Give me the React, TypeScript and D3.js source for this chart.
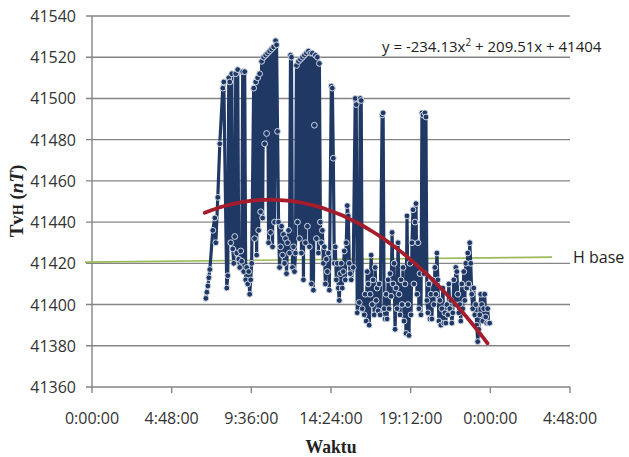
import { useRef, useEffect } from "react";
import * as d3 from "d3";

// axis ticks (x in days, Excel time serial)
const yTicks = [41360, 41380, 41400, 41420, 41440, 41460, 41480, 41500, 41520, 41540];
const xTicks = [0, 0.2, 0.4, 0.6, 0.8, 1.0, 1.2];
const xTickLabels = ["0:00:00", "4:48:00", "9:36:00", "14:24:00", "19:12:00", "0:00:00", "4:48:00"];

// readings: time of day in hours, TvH in nT
const hours = [
  6.86, 6.92, 6.98, 7.04, 7.1, 7.28, 7.4, 7.46, 7.58, 7.7, 7.88, 7.94, 8.12, 8.18, 8.24, 8.3, 8.36, 8.42,
  8.48, 8.54, 8.6, 8.66, 8.72, 8.78, 8.84, 8.9, 8.96, 9.02, 9.08, 9.14, 9.2, 9.26, 9.32, 9.38, 9.44, 9.5,
  9.56, 9.62, 9.74, 9.8, 9.86, 9.92, 9.98, 10.04, 10.1, 10.16, 10.22, 10.28, 10.34, 10.4, 10.46, 10.52,
  10.58, 10.64, 10.7, 10.76, 10.82, 10.88, 10.94, 11.0, 11.06, 11.12, 11.18, 11.24, 11.3, 11.36, 11.42,
  11.48, 11.54, 11.6, 11.66, 11.72, 11.78, 11.84, 11.9, 11.96, 12.02, 12.08, 12.14, 12.2, 12.26, 12.32,
  12.38, 12.44, 12.5, 12.56, 12.62, 12.68, 12.74, 12.8, 12.86, 12.92, 12.98, 13.04, 13.1, 13.16, 13.22,
  13.28, 13.34, 13.4, 13.46, 13.52, 13.58, 13.64, 13.7, 13.76, 13.82, 13.88, 13.94, 14.0, 14.06, 14.12,
  14.18, 14.24, 14.3, 14.42, 14.48, 14.54, 14.6, 14.66, 14.72, 14.78, 14.84, 14.9, 14.96, 15.02, 15.08,
  15.14, 15.2, 15.26, 15.32, 15.38, 15.44, 15.5, 15.56, 15.62, 15.74, 15.86, 15.92, 15.98, 16.1, 16.16,
  16.22, 16.28, 16.4, 16.46, 16.52, 16.58, 16.64, 16.7, 16.76, 16.82, 16.88, 16.94, 17.0, 17.06, 17.12,
  17.18, 17.24, 17.3, 17.36, 17.48, 17.54, 17.6, 17.66, 17.72, 17.78, 17.84, 17.9, 17.96, 18.02, 18.08,
  18.14, 18.2, 18.26, 18.32, 18.38, 18.44, 18.5, 18.56, 18.62, 18.68, 18.74, 18.8, 18.86, 18.92, 18.98,
  19.04, 19.1, 19.16, 19.22, 19.28, 19.34, 19.4, 19.46, 19.52, 19.58, 19.64, 19.7, 19.76, 19.82, 19.88,
  19.94, 20.0, 20.06, 20.12, 20.18, 20.24, 20.3, 20.36, 20.42, 20.48, 20.54, 20.6, 20.66, 20.72, 20.78,
  20.84, 20.9, 20.96, 21.02, 21.08, 21.14, 21.2, 21.26, 21.32, 21.38, 21.44, 21.5, 21.56, 21.62, 21.68,
  21.74, 21.8, 21.86, 21.92, 21.98, 22.04, 22.1, 22.16, 22.22, 22.28, 22.34, 22.4, 22.46, 22.52, 22.58,
  22.64, 22.7, 22.76, 22.82, 22.88, 22.94, 23.0, 23.06, 23.12, 23.18, 23.24, 23.3, 23.36, 23.42, 23.48,
  23.54, 23.6, 23.66, 23.72, 23.78, 23.84, 23.9, 23.96,
];
const tvh = [
  41403, 41406, 41409, 41413, 41417, 41436, 41442, 41430, 41452, 41478, 41505, 41508, 41408, 41414, 41510, 41508, 41430, 41512,
  41427, 41420, 41433, 41512, 41425, 41514, 41422, 41418, 41426, 41421, 41513, 41416, 41513, 41412, 41418, 41410, 41416, 41405,
  41412, 41420, 41505, 41432, 41508, 41424, 41510, 41436, 41512, 41445, 41518, 41442, 41520, 41478, 41521, 41483,
  41522, 41430, 41523, 41435, 41524, 41428, 41525, 41440, 41528, 41526, 41484, 41440, 41418, 41428, 41438,
  41424, 41434, 41420, 41432, 41415, 41430, 41436, 41425, 41521, 41520, 41418, 41428, 41416, 41425, 41516,
  41440, 41518, 41432, 41519, 41425, 41520, 41412, 41521, 41430, 41522, 41438, 41523, 41428, 41522, 41410,
  41522, 41407, 41487, 41521, 41432, 41520, 41425, 41517, 41440, 41430, 41436, 41420, 41428, 41410, 41422,
  41416, 41425, 41407, 41506, 41505, 41471, 41420, 41428, 41412, 41420, 41408, 41402, 41415, 41420, 41408,
  41416, 41426, 41412, 41430, 41448, 41443, 41420, 41415, 41412, 41418, 41500, 41497, 41396, 41401, 41500,
  41499, 41398, 41395, 41405, 41392, 41416, 41410, 41390, 41405, 41424, 41400, 41412, 41395, 41418, 41402,
  41408, 41397, 41410, 41395, 41492, 41493, 41398, 41393, 41405, 41393, 41412, 41398, 41415, 41404, 41435,
  41410, 41420, 41388, 41408, 41398, 41430, 41405, 41395, 41412, 41400, 41418, 41392, 41410, 41386, 41443,
  41400, 41385, 41420, 41395, 41430, 41446, 41410, 41440, 41449, 41405, 41430, 41398, 41415, 41395, 41493,
  41492, 41415, 41493, 41491, 41402, 41396, 41410, 41393, 41405, 41393, 41412, 41400, 41418, 41405, 41425,
  41412, 41392, 41402, 41390, 41398, 41408, 41391, 41396, 41391, 41400, 41395, 41410, 41398, 41402, 41391,
  41396, 41412, 41400, 41418, 41416, 41405, 41396, 41400, 41392, 41410, 41398, 41416, 41402, 41420, 41408,
  41425, 41410, 41430, 41420, 41405, 41398, 41408, 41395, 41400, 41390, 41382, 41388, 41395, 41405, 41400,
  41392, 41398, 41405, 41394, 41391, 41398, 41391, 41391,
];

// polynomial trendline y = a x^2 + b x + c (x in days), as printed on the chart
const trendCoef = [-234.13, 209.51, 41404];
const trendRange = [0.283, 1.0];

// hand drawn H base line
const hBaseX = [-0.018, 1.155];
const hBaseY = [41420.6, 41423];

const W = 629;
const H = 457;

const TvhChart = () => {
  const svgRef = useRef<SVGSVGElement | null>(null);

  useEffect(() => {
    if (!svgRef.current) return;
    document.body.style.margin = "0";

    const svg = d3.select(svgRef.current);
    svg.selectAll("*").remove();

    const x = d3.scaleLinear().domain([0, 1.2]).range([92, 570]);
    const y = d3.scaleLinear().domain([41360, 41540]).range([387, 16]);
    const font = "'Open Sans', sans-serif";

    svg.append("rect").attr("width", W).attr("height", H).attr("fill", "#fff");

    // gridlines + y ticks
    svg.append("g")
      .selectAll("line")
      .data(yTicks)
      .join("line")
      .attr("x1", 86)
      .attr("x2", 570)
      .attr("y1", (d) => y(d))
      .attr("y2", (d) => y(d))
      .attr("stroke", "#858585")
      .attr("stroke-width", 1.4);

    svg.append("g")
      .selectAll("text")
      .data(yTicks)
      .join("text")
      .attr("x", 76)
      .attr("y", (d) => y(d) + 6)
      .attr("text-anchor", "end")
      .attr("font-family", font)
      .attr("font-size", 16)
      .attr("fill", "#333")
      .text((d) => d);

    // axes
    svg.append("line")
      .attr("x1", 92).attr("x2", 92)
      .attr("y1", y(41540)).attr("y2", y(41360))
      .attr("stroke", "#858585").attr("stroke-width", 1.4);

    svg.append("g")
      .selectAll("line")
      .data(xTicks)
      .join("line")
      .attr("x1", (d) => x(d))
      .attr("x2", (d) => x(d))
      .attr("y1", y(41360))
      .attr("y2", y(41360) + 6)
      .attr("stroke", "#858585")
      .attr("stroke-width", 1.4);

    svg.append("g")
      .selectAll("text")
      .data(xTicks)
      .join("text")
      .attr("x", (d) => x(d))
      .attr("y", 424)
      .attr("text-anchor", "middle")
      .attr("font-family", font)
      .attr("font-size", 16)
      .attr("fill", "#333")
      .text((d, i) => xTickLabels[i]);

    // H base
    svg.append("line")
      .attr("x1", x(hBaseX[0])).attr("x2", x(hBaseX[1]))
      .attr("y1", y(hBaseY[0])).attr("y2", y(hBaseY[1]))
      .attr("stroke", "#9bbb59").attr("stroke-width", 1.6);

    // data series
    const pts = hours.map((h, i) => [h / 24, tvh[i]] as [number, number]);
    const line = d3.line<[number, number]>()
      .x((d) => x(d[0]))
      .y((d) => y(d[1]));

    svg.append("path")
      .datum(pts)
      .attr("d", line)
      .attr("fill", "none")
      .attr("stroke", "#1f3864")
      .attr("stroke-width", 3.2)
      .attr("stroke-linejoin", "round");

    svg.append("g")
      .selectAll("circle")
      .data(pts)
      .join("circle")
      .attr("cx", (d) => x(d[0]))
      .attr("cy", (d) => y(d[1]))
      .attr("r", 2.9)
      .attr("fill", "#1f3864")
      .attr("stroke", "#d2d9e8")
      .attr("stroke-width", 1);

    // trendline
    const [a, b, c] = trendCoef;
    const tx = d3.range(trendRange[0], trendRange[1] + 0.0001, 0.01);
    const trend = tx.map((t) => [t, a * t * t + b * t + c] as [number, number]);
    svg.append("path")
      .datum(trend)
      .attr("d", line.curve(d3.curveBasis))
      .attr("fill", "none")
      .attr("stroke", "#a51c2c")
      .attr("stroke-width", 3.8)
      .attr("stroke-linecap", "round");

    // equation
    const eq = svg.append("text")
      .attr("x", 382)
      .attr("y", 52)
      .attr("font-family", font)
      .attr("font-size", 15)
      .attr("fill", "#222");
    eq.append("tspan").text("y = -234.13x");
    eq.append("tspan").attr("dy", -6).attr("font-size", 10).text("2");
    eq.append("tspan").attr("dy", 6).text(" + 209.51x + 41404");

    svg.append("text")
      .attr("x", 573)
      .attr("y", 263)
      .attr("font-family", font)
      .attr("font-size", 16)
      .attr("fill", "#222")
      .text("H base");

    // axis titles
    svg.append("text")
      .attr("x", 331)
      .attr("y", 453)
      .attr("text-anchor", "middle")
      .attr("font-family", "'Liberation Serif', serif")
      .attr("font-weight", "bold")
      .attr("font-size", 19)
      .attr("textLength", 51)
      .attr("lengthAdjust", "spacingAndGlyphs")
      .attr("fill", "#222")
      .text("Waktu");

    const yl = svg.append("text")
      .attr("transform", "translate(23,201) rotate(-90)")
      .attr("text-anchor", "middle")
      .attr("font-family", "'Liberation Serif', serif")
      .attr("font-weight", "bold")
      .attr("font-size", 19)
      .attr("fill", "#222");
    yl.append("tspan").text("Tv");
    yl.append("tspan").attr("font-size", 14).text("H");
    yl.append("tspan").text(" (");
    yl.append("tspan").attr("font-style", "italic").text("nT");
    yl.append("tspan").text(")");
  }, []);

  return <svg ref={svgRef} width={W} height={H} style={{ display: "block" }}></svg>;
};

export default function App() {
  return <TvhChart />;
}
